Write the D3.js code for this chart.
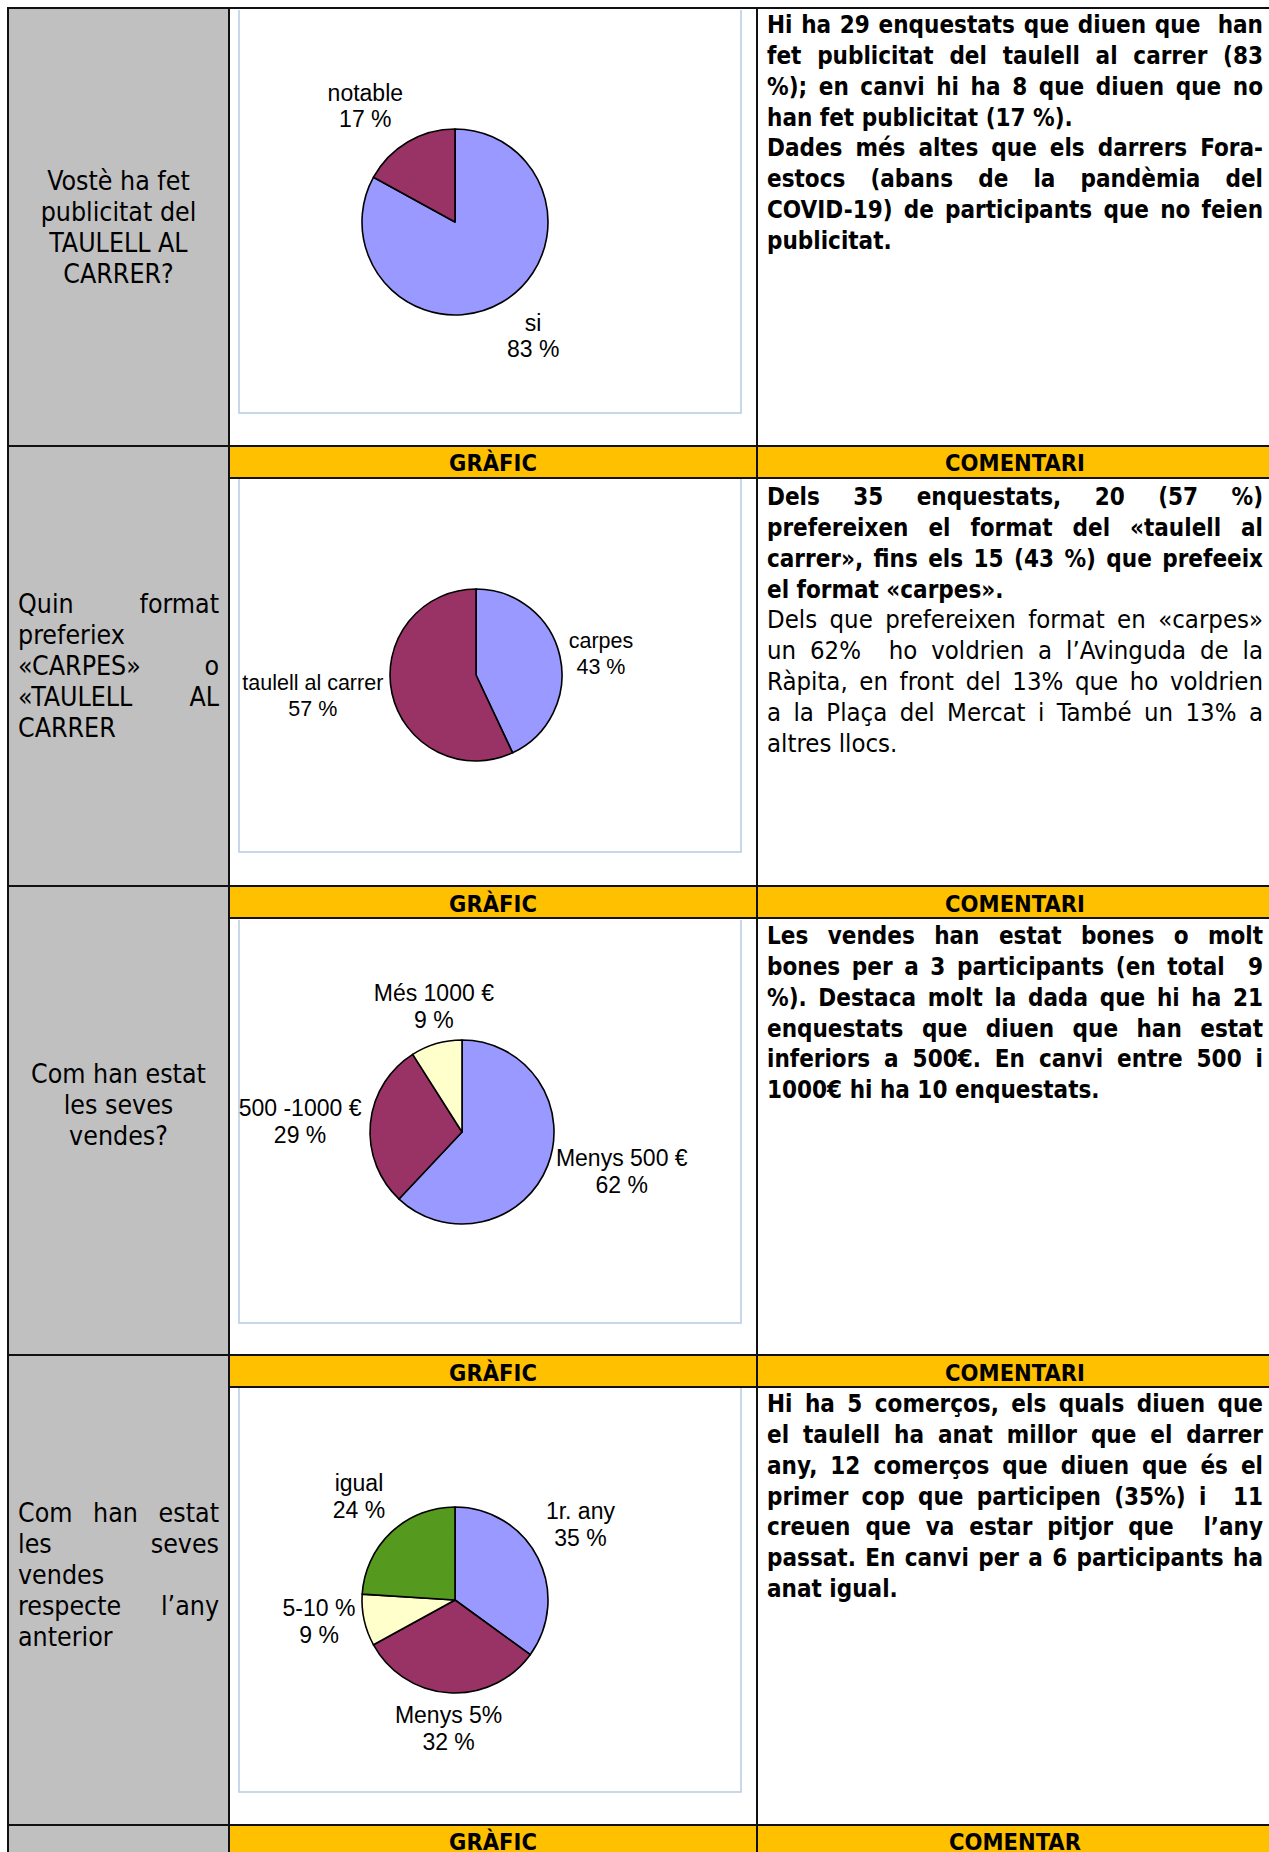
<!DOCTYPE html>
<html><head><meta charset="utf-8">
<script src="https://cdn.jsdelivr.net/npm/d3@7/dist/d3.min.js"></script>
<style>html,body{margin:0;padding:0;background:#fff;overflow:hidden}svg{display:block}</style>
</head><body>
<svg id="c" width="1269" height="1852"></svg>
<script>
// ---------------- DATA ----------------
const q1Categories = ["si", "notable"];
const q1Values = [83, 17];
const q2Categories = ["carpes", "taulell al carrer"];
const q2Values = [43, 57];
const q3Categories = ["Menys 500 €", "500 -1000 €", "Més 1000 €"];
const q3Values = [62, 29, 9];
const q4Categories = ["1r. any", "Menys 5%", "5-10 %", "igual"];
const q4Values = [35, 32, 9, 24];

const headerLabels = ["GRÀFIC", "COMENTARI"];
const lastHeaderLabels = ["GRÀFIC", "COMENTAR"];

const q1Question = [["Vostè ha fet", "publicitat del", "TAULELL AL", "CARRER?"]];
const q2Question = [["Quin format", "preferiex"], ["«CARPES» o", "«TAULELL AL", "CARRER"]];
const q3Question = [["Com han estat", "les seves", "vendes?"]];
const q4Question = [["Com han estat", "les seves", "vendes"], ["respecte l’any", "anterior"]];

const q1Comment = [
  ["Hi ha 29 enquestats que diuen que  han", "fet publicitat del taulell al carrer (83", "%); en canvi hi ha 8 que diuen que no", "han fet publicitat (17 %)."],
  ["Dades més altes que els darrers Fora-", "estocs (abans de la pandèmia del", "COVID-19) de participants que no feien", "publicitat."]
];
const q2Comment = [
  ["Dels 35 enquestats, 20 (57 %)", "prefereixen el format del «taulell al", "carrer», fins els 15 (43 %) que prefeeix", "el format «carpes»."],
  ["Dels que prefereixen format en «carpes»", "un 62%  ho voldrien a l’Avinguda de la", "Ràpita, en front del 13% que ho voldrien", "a la Plaça del Mercat i També un 13% a", "altres llocs."]
];
const q3Comment = [
  ["Les vendes han estat bones o molt", "bones per a 3 participants (en total  9", "%). Destaca molt la dada que hi ha 21", "enquestats que diuen que han estat", "inferiors a 500€. En canvi entre 500 i", "1000€ hi ha 10 enquestats."]
];
const q4Comment = [
  ["Hi ha 5 comerços, els quals diuen que", "el taulell ha anat millor que el darrer", "any, 12 comerços que diuen que és el", "primer cop que participen (35%) i  11", "creuen que va estar pitjor que  l’any", "passat. En canvi per a 6 participants ha", "anat igual."]
];

// ---------------- LAYOUT / STYLE ----------------
const W = 1269, H = 1852;
const X0 = 8, X1 = 229, X2 = 757;
const GREY = "#c0c0c0", YELLOW = "#ffc000";
const sliceColors = {
  q1: ["#9999ff", "#993366"],
  q2: ["#9999ff", "#993366"],
  q3: ["#9999ff", "#993366", "#ffffcc"],
  q4: ["#9999ff", "#993366", "#ffffcc", "#559a1e"]
};
const ARIAL = "'Liberation Sans', Arial, sans-serif";

const svg = d3.select("#c");

// detect condensed face
function measure(fam, weight) {
  const t = svg.append("text").style("font-family", fam).style("font-size", "40px")
    .style("font-weight", weight).text("publicitat del taulell");
  const w = t.node().getComputedTextLength(); t.remove(); return w;
}
const condOK = measure("'DejaVu Sans Condensed'", "bold") < 0.95 * measure("'DejaVu Sans'", "bold");
const SANS = condOK ? "'DejaVu Sans Condensed', 'DejaVu Sans', sans-serif" : "'DejaVu Sans', sans-serif";
const SZ = condOK
  ? {bold: 24, normal: 25.5, question: 26.5, head: 23.5}
  : {bold: 22, normal: 23, question: 24, head: 21.5};

const rows = [
  {id: "q1", cats: q1Categories, vals: q1Values, question: q1Question, qAlign: "center", qBase: 190,
   comment: q1Comment, cWeights: ["bold", "bold"], cBase: 33,
   headTop: null, contentTop: 8, bottom: 445.5, box: [239, 10, 741, 413],
   pie: {cx: 455, cy: 222, r: 93, fs: 23, lh: 26}},
  {id: "q2", cats: q2Categories, vals: q2Values, question: q2Question, qAlign: "justify", qBase: 613,
   comment: q2Comment, cWeights: ["bold", "normal"], cBase: 505,
   headTop: 445.5, contentTop: 478, bottom: 886, box: [239, 479, 741, 852],
   pie: {cx: 476, cy: 675, r: 86, fs: 21.5, lh: 26}},
  {id: "q3", cats: q3Categories, vals: q3Values, question: q3Question, qAlign: "center", qBase: 1083,
   comment: q3Comment, cWeights: ["bold"], cBase: 944,
   headTop: 886, contentTop: 918, bottom: 1355, box: [239, 920, 741, 1323],
   pie: {cx: 462, cy: 1132, r: 92, fs: 23, lh: 27}},
  {id: "q4", cats: q4Categories, vals: q4Values, question: q4Question, qAlign: "justify", qBase: 1522,
   comment: q4Comment, cWeights: ["bold"], cBase: 1412,
   headTop: 1355, contentTop: 1387, bottom: 1825, box: [239, 1388, 741, 1792],
   pie: {cx: 455, cy: 1600, r: 93, fs: 23, lh: 27}}
];
const lastHeadTop = 1825;

// backgrounds
svg.insert("rect", ":first-child").attr("x", 0).attr("y", 0).attr("width", W).attr("height", H).attr("fill", "#fff");
svg.append("rect").attr("x", X0).attr("y", 8).attr("width", X1 - X0).attr("height", H - 8).attr("fill", GREY);
const headTops = rows.filter(r => r.headTop !== null).map(r => r.headTop).concat([lastHeadTop]);
headTops.forEach(t => {
  svg.append("rect").attr("x", X1).attr("y", t).attr("width", W - X1).attr("height", 32.5).attr("fill", YELLOW);
});

// chart boxes
rows.forEach(r => {
  const [x1, y1, x2, y2] = r.box;
  svg.append("path")
    .attr("d", `M${x1},${y1}V${y2}H${x2}V${y1}`)
    .attr("fill", "none").attr("stroke", "#b8cae4").attr("stroke-width", 1.5);
});

// helpers
function lineText(parent, str, x, y, font, anchor) {
  return parent.append("text").attr("x", x).attr("y", y)
    .attr("text-anchor", anchor || "start")
    .style("white-space", "pre")
    .style("font-family", font.family).style("font-size", font.size + "px")
    .style("font-weight", font.weight || "normal").attr("fill", "#000")
    .text(str);
}
function justifyLine(parent, str, x, width, y, font) {
  const words = str.split(" ");
  const g = parent.append("g");
  const nodes = words.map(w => lineText(g, w, 0, y, font));
  const widths = nodes.map(n => n.node().getComputedTextLength());
  const total = d3.sum(widths);
  const n = words.length;
  let gap = (width - total) / (n - 1);
  let k = 1;
  if (gap < 3) { k = (width - 3 * (n - 1)) / total; gap = 3 / k; }
  let cur = 0;
  nodes.forEach((nd, i) => { nd.attr("x", cur); cur += widths[i] + gap; });
  g.attr("transform", `translate(${x},0) scale(${k},1)`);
}
function paragraphBlock(parent, paras, opts) {
  let y = opts.base;
  paras.forEach((lines, pi) => {
    const font = opts.fonts[pi] || opts.fonts[0];
    lines.forEach((ln, li) => {
      const last = li === lines.length - 1;
      if (opts.align === "center") {
        lineText(parent, ln, opts.x + opts.width / 2, y, font, "middle");
      } else if (!last && ln.indexOf(" ") > 0) {
        justifyLine(parent, ln, opts.x, opts.width, y, font);
      } else {
        lineText(parent, ln, opts.x, y, font);
      }
      y += opts.lh;
    });
  });
}

// question column texts
rows.forEach(r => {
  paragraphBlock(svg, r.question, {
    x: r.qAlign === "center" ? X0 : 18,
    width: r.qAlign === "center" ? X1 - X0 : 201,
    base: r.qBase, lh: 31, align: r.qAlign,
    fonts: [{family: SANS, size: SZ.question, weight: "normal"}]
  });
});

// comments
rows.forEach(r => {
  paragraphBlock(svg, r.comment, {
    x: 767, width: 496, base: r.cBase, lh: 30.85, align: "justify",
    fonts: r.cWeights.map(w => ({family: SANS, size: SZ[w], weight: w}))
  });
});

// headers
const headFont = {family: SANS, size: SZ.head, weight: "bold"};
rows.filter(r => r.headTop !== null).forEach(r => {
  lineText(svg, headerLabels[0], (X1 + X2) / 2, r.headTop + 25.5, headFont, "middle");
  lineText(svg, headerLabels[1], 1015, r.headTop + 25.5, headFont, "middle");
});
lineText(svg, lastHeaderLabels[0], (X1 + X2) / 2, lastHeadTop + 25, headFont, "middle");
lineText(svg, lastHeaderLabels[1], 1015, lastHeadTop + 25, headFont, "middle");

// pies
function step(d) {
  const a = Math.abs(d);
  return Math.sign(d) * Math.max(0, Math.min(1, (a - 0.36) / 0.08));
}
rows.forEach(r => {
  const data = r.cats.map((c, i) => ({cat: c, v: r.vals[i], color: sliceColors[r.id][i]}));
  const arcs = d3.pie().sort(null).value(d => d.v)(data);
  const p = r.pie;
  const arc = d3.arc().innerRadius(0).outerRadius(p.r);
  const g = svg.append("g").attr("transform", `translate(${p.cx},${p.cy})`);
  g.selectAll("path").data(arcs).join("path")
    .attr("d", arc).attr("fill", d => d.data.color)
    .attr("stroke", "#000").attr("stroke-width", 1.6).attr("stroke-linejoin", "round");
  const font = {family: ARIAL, size: p.fs, weight: "normal"};
  arcs.forEach(a => {
    const m = (a.startAngle + a.endAngle) / 2;
    const dx = Math.sin(m), dy = -Math.cos(m);
    const px = (p.r + 9) * dx, py = (p.r + 9) * dy;
    const lg = g.append("g");
    const t1 = lineText(lg, a.data.cat, 0, 0, font, "middle");
    const t2 = lineText(lg, a.data.v + " %", 0, p.lh, font, "middle");
    const w = Math.max(t1.node().getComputedTextLength(), t2.node().getComputedTextLength());
    const hh = p.lh + 1;
    const cx = px + step(dx) * w / 2;
    const cy = py + step(dy) * hh;
    const b1 = cy + 7 - p.lh / 2;
    lg.attr("transform", `translate(${cx},${b1})`);
  });
});

// grid lines
const lines = svg.append("g").attr("stroke", "#111").attr("stroke-width", 2).attr("shape-rendering", "crispEdges");
lines.append("line").attr("x1", X0 - 1).attr("x2", W).attr("y1", 8).attr("y2", 8);
lines.append("line").attr("x1", X0).attr("x2", X0).attr("y1", 8).attr("y2", H);
lines.append("line").attr("x1", X1).attr("x2", X1).attr("y1", 8).attr("y2", H);
lines.append("line").attr("x1", X2).attr("x2", X2).attr("y1", 8).attr("y2", H);
rows.forEach(r => {
  lines.append("line").attr("x1", X0).attr("x2", W).attr("y1", r.bottom).attr("y2", r.bottom);
  if (r.headTop !== null) {
    lines.append("line").attr("x1", X1).attr("x2", W).attr("y1", r.contentTop).attr("y2", r.contentTop);
  }
});
lines.append("line").attr("x1", X1).attr("x2", W).attr("y1", lastHeadTop + 32.5).attr("y2", lastHeadTop + 32.5);
</script>
</body></html>
